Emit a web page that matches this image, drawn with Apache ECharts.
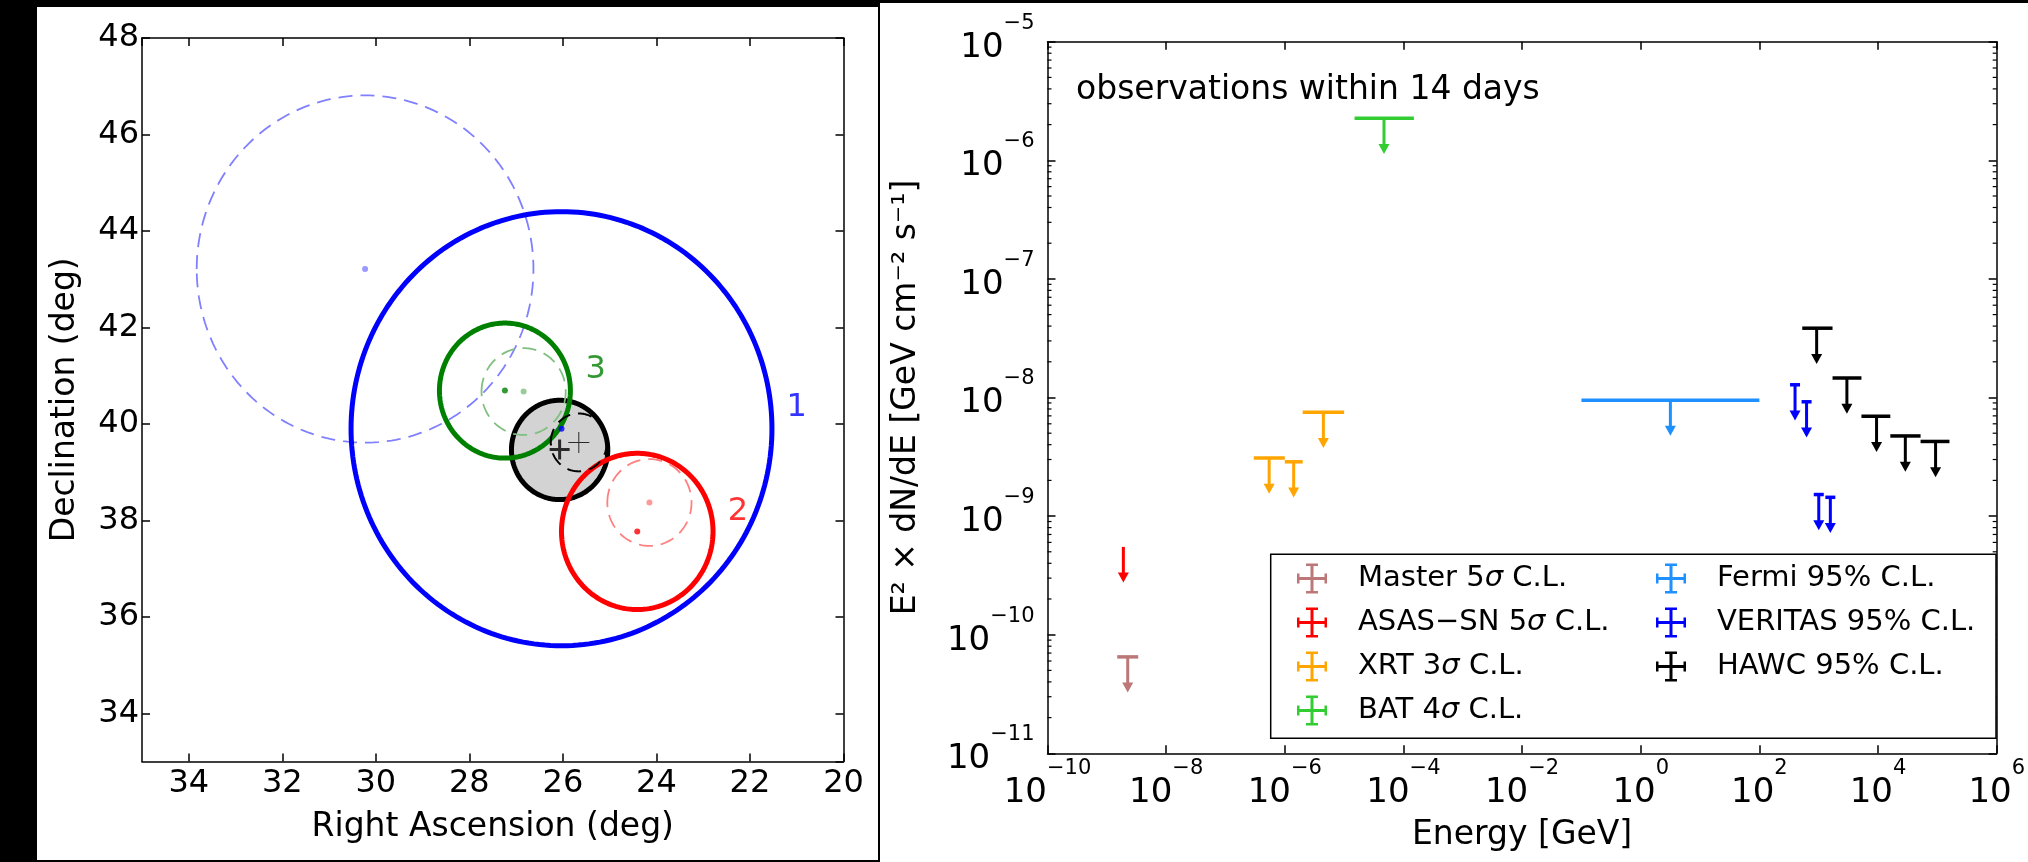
<!DOCTYPE html>
<html>
<head>
  <meta charset="utf-8">
  <title>Localisation and upper limits</title>
  <script src="https://cdn.jsdelivr.net/npm/echarts@6/dist/echarts.min.js"></script>
  <style>
    html, body { margin: 0; padding: 0; background: #000; }
    #main { width: 2028px; height: 862px; }
  </style>
</head>
<body>
  <div id="main"></div>
  <script>
  // ---- left panel: error circles (deg) ----
  var circleRa  = [30.23, 26.03, 26.07, 27.24, 26.84, 24.41, 24.15, 25.66];
  var circleDec = [43.21, 39.90, 39.46, 40.69, 40.67, 37.77, 38.37, 39.615];
  var circleRad = [3.60, 4.50, 1.03, 1.40, 0.90, 1.62, 0.90, 0.60];

  var dotRa  = [30.23, 26.03, 27.24, 26.84, 24.41, 24.15];
  var dotDec = [43.21, 39.90, 40.69, 40.67, 37.77, 38.37];

  var plusRa  = [26.07, 25.66];
  var plusDec = [39.47, 39.615];

  var labelText = ['1', '2', '3'];
  var labelRa   = [21.0, 22.26, 25.3];
  var labelDec  = [40.33, 38.18, 41.13];

  // ---- right panel: upper limits, energy [GeV], E^2 dN/dE ----
  var masterE = [2.25e-9];
  var masterF = [6.5e-11];
  var asasE = [1.9e-9];
  var asasF = [5.5e-10];
  var xrtE  = [5.45e-7, 1.41e-6, 4.47e-6];
  var xrtLo = [3.0e-7, 1.0e-6, 2.0e-6];
  var xrtHi = [1.0e-6, 2.0e-6, 1.0e-5];
  var xrtF  = [3.09e-9, 2.87e-9, 7.5e-9];
  var batE  = [4.7e-5];
  var batLo = [1.5e-5];
  var batHi = [1.5e-4];
  var batF  = [2.26e-6];
  var fermiE  = [3.16];
  var fermiLo = [0.1];
  var fermiHi = [100];
  var fermiF  = [9.5e-9];
  var veritasE = [399, 624, 1002, 1570];
  var veritasF = [1.28e-8, 9.2e-9, 1.52e-9, 1.44e-9];
  var hawcE  = [923, 2985, 9440, 28840, 93300];
  var hawcLo = [528, 1710, 5250, 16100, 52100];
  var hawcHi = [1710, 5250, 16100, 52100, 160000];
  var hawcF  = [3.84e-8, 1.46e-8, 6.95e-9, 4.74e-9, 4.26e-9];

  var FONT = 'DejaVu Sans';

  var circleStyle = [
    {color: '#8080ff', width: 1.8, dash: [14, 8]},
    {color: '#0000ff', width: 5},
    {color: '#000000', width: 5, fill: '#d3d3d3'},
    {color: '#008000', width: 5},
    {color: '#7fbf7f', width: 1.8, dash: [14, 8]},
    {color: '#ff0000', width: 5},
    {color: '#ff8080', width: 1.8, dash: [14, 8]},
    {color: '#000000', width: 2, dash: [14, 8]}
  ];
  var dotColor = ['#8080ff', '#0000ff', '#008000', '#7fbf7f', '#ff0000', '#ff8080'];
  var plusIcon = [
    'path://M0,8.5h20v3h-20z M8.5,0h3v20h-3z',
    'path://M0,10h21v1h-21z M10,0h1v21h-1z'
  ];
  var plusSize = [20, 21];
  var labelColor = ['#0000ff', '#ff0000', '#008000'];

  var crossIcon = 'path://M13.5,0h3v30h-3z M9,0h12v2.5h-12z M9,27.5h12v2.5h-12z M0,13.5h30v3h-30z M0,10h2.5v10h-2.5z M27.5,10h2.5v10h-2.5z';

  function axisBase(extra) {
    var a = {
      axisLine: {show: true, onZero: false, lineStyle: {color: '#000', width: 1.5}},
      axisTick: {show: true, inside: true, length: 8, lineStyle: {color: '#000', width: 1.5}},
      splitLine: {show: false},
      axisLabel: {show: false},
      nameTextStyle: {fontFamily: FONT, fontSize: 33, color: '#000', lineHeight: 36}
    };
    for (var k in extra) a[k] = extra[k];
    return a;
  }

  var plainLabel = {show: true, fontFamily: FONT, fontSize: 32, color: '#000', lineHeight: 36, margin: 4};

  // "10" fills a tall line; the exponent hugs the top of it
  var powRich = {
    b: {fontFamily: FONT, fontSize: 34, lineHeight: 70, color: '#000'},
    e: {fontFamily: FONT, fontSize: 21, lineHeight: 22, color: '#000', verticalAlign: 'top'}
  };
  function powLabel(p) {
    return '{b|10}{e|' + (p < 0 ? '\u2212' + (-p) : String(p)) + '}';
  }

  var TIP_FRAC = 0.5, ARROW_W = 11, ARROW_H = 10;
  function limitRender(capPx) {
    return function (params, api) {
      var y = api.value(1);
      var p = api.coord([api.value(0), y]);
      var tip = api.coord([api.value(0), y * TIP_FRAC]);
      var l = Math.min(api.coord([api.value(2), y])[0], p[0] - capPx);
      var r = Math.max(api.coord([api.value(3), y])[0], p[0] + capPx);
      var color = api.visual('color');
      var kids = [];
      if (r - l > 1) {
        kids.push({type: 'line', shape: {x1: l, y1: p[1], x2: r, y2: p[1]}, style: {stroke: color, lineWidth: 3.5}});
      }
      kids.push({type: 'line', shape: {x1: p[0], y1: p[1], x2: p[0], y2: tip[1] - ARROW_H + 1}, style: {stroke: color, lineWidth: 3}});
      kids.push({type: 'polygon', shape: {points: [[p[0] - ARROW_W / 2, tip[1] - ARROW_H], [p[0] + ARROW_W / 2, tip[1] - ARROW_H], [p[0], tip[1]]]}, style: {fill: color}});
      return {type: 'group', children: kids};
    };
  }

  function limitSeries(name, color, E, F, lo, hi, capPx) {
    var data = E.map(function (e, i) {
      return [Math.log10(e), F[i], Math.log10(lo ? lo[i] : e), Math.log10(hi ? hi[i] : e)];
    });
    return {
      type: 'custom', name: name, xAxisIndex: 2, yAxisIndex: 2,
      itemStyle: {color: color}, encode: {x: 0, y: 1},
      data: data, renderItem: limitRender(capPx), z: 3
    };
  }

  var minorTicks = [];
  for (var d = -11; d < -5; d++) {
    for (var m = 2; m <= 9; m++) minorTicks.push([-10, m * Math.pow(10, d)]);
  }

  var legendText = {
    fontFamily: FONT, fontSize: 29, color: '#000', lineHeight: 30, padding: [0, 0, 0, 26],
    rich: {s: {fontFamily: FONT, fontSize: 29, fontStyle: 'italic', color: '#000'}}
  };
  function legendFmt(name) { return name.replace('\u03c3', '{s|\u03c3}'); }

  var chart = echarts.init(document.getElementById('main'));
  chart.setOption({
    animation: false,
    backgroundColor: '#000',
    graphic: {elements: [
      {type: 'rect', z: -100, silent: true, shape: {x: 37, y: 7, width: 841, height: 853}, style: {fill: '#fff'}},
      {type: 'rect', z: -100, silent: true, shape: {x: 880, y: 3, width: 1148, height: 859}, style: {fill: '#fff'}},
      {type: 'rect', z: 3, silent: true, shape: {x: 1270.7, y: 554.3, width: 725.3, height: 184}, style: {fill: '#fff', stroke: '#000', lineWidth: 1.5}}
    ]},
    title: {
      text: 'observations within 14 days', left: 1076, top: 70, padding: 0,
      textStyle: {fontFamily: FONT, fontSize: 33, fontWeight: 'normal', color: '#000', lineHeight: 40}
    },
    legend: [
      {left: 1297, top: 563.5, orient: 'vertical', padding: 0, itemWidth: 30, itemHeight: 30, itemGap: 14,
       selectedMode: false, itemStyle: {borderWidth: 0}, textStyle: legendText, formatter: legendFmt,
       data: ['Master 5\u03c3 C.L.', 'ASAS\u2212SN 5\u03c3 C.L.', 'XRT 3\u03c3 C.L.', 'BAT 4\u03c3 C.L.'].map(function (n) { return {name: n, icon: crossIcon}; })},
      {left: 1656, top: 563.5, orient: 'vertical', padding: 0, itemWidth: 30, itemHeight: 30, itemGap: 14,
       selectedMode: false, itemStyle: {borderWidth: 0}, textStyle: legendText, formatter: legendFmt,
       data: ['Fermi 95% C.L.', 'VERITAS 95% C.L.', 'HAWC 95% C.L.'].map(function (n) { return {name: n, icon: crossIcon}; })}
    ],
    grid: [
      {left: 142, top: 38, width: 701.5, height: 723.5},
      {left: 1047.5, top: 41.7, width: 963.2, height: 711.6}
    ],
    xAxis: [
      axisBase({gridIndex: 0, type: 'value', min: 20, max: 35, interval: 2, inverse: true, position: 'bottom',
        axisLabel: Object.assign({}, plainLabel, {showMaxLabel: false}),
        name: 'Right Ascension (deg)', nameLocation: 'middle', nameGap: 48}),
      axisBase({gridIndex: 0, type: 'value', min: 20, max: 35, interval: 2, inverse: true, position: 'top'}),
      axisBase({gridIndex: 1, type: 'value', min: -10, max: 6, interval: 2, position: 'bottom',
        axisLabel: {show: true, margin: 5, formatter: function (v) { return powLabel(Math.round(v)); }, rich: powRich},
        name: 'Energy [GeV]', nameLocation: 'middle', nameGap: 64}),
      axisBase({gridIndex: 1, type: 'value', min: -10, max: 6, interval: 2, position: 'top'})
    ],
    yAxis: [
      axisBase({gridIndex: 0, type: 'value', min: 33, max: 48, splitNumber: 7, position: 'left',
        axisLabel: Object.assign({}, plainLabel, {showMinLabel: false, margin: 3}),
        name: 'Declination (deg)', nameLocation: 'middle', nameGap: 59}),
      axisBase({gridIndex: 0, type: 'value', min: 33, max: 48, splitNumber: 7, position: 'right'}),
      axisBase({gridIndex: 1, type: 'log', logBase: 10, min: 1e-11, max: 1e-5, position: 'left',
        axisLabel: {show: true, margin: 13, padding: [12, 0, 0, 0],
          formatter: function (v) { return powLabel(Math.round(Math.log10(v))); }, rich: powRich},
        name: 'E\u00b2 \u00d7 dN/dE [GeV cm\u207b\u00b2 s\u207b\u00b9]', nameLocation: 'middle', nameGap: 123}),
      axisBase({gridIndex: 1, type: 'log', logBase: 10, min: 1e-11, max: 1e-5, position: 'right'})
    ],
    series: [
      {
        type: 'custom', name: 'circles', xAxisIndex: 0, yAxisIndex: 0, encode: {x: 0, y: 1}, z: 2,
        data: circleRa.map(function (ra, i) { return [ra, circleDec[i], circleRad[i]]; }),
        renderItem: function (params, api) {
          var cx = api.value(0), cy = api.value(1), r = api.value(2);
          var st = circleStyle[params.dataIndex];
          var pts = [];
          for (var k = 0; k < 240; k++) {
            var t = 2 * Math.PI * k / 240;
            pts.push(api.coord([cx + r * Math.cos(t), cy + r * Math.sin(t)]));
          }
          return {type: 'polygon', shape: {points: pts},
            style: {fill: st.fill || 'none', stroke: st.color, lineWidth: st.width, lineDash: st.dash || null}};
        }
      },
      {
        type: 'scatter', name: 'centres', xAxisIndex: 0, yAxisIndex: 0, symbolSize: 6, z: 3,
        data: dotRa.map(function (ra, i) { return {value: [ra, dotDec[i]], itemStyle: {color: dotColor[i]}}; })
      },
      {
        type: 'scatter', name: 'markers', xAxisIndex: 0, yAxisIndex: 0, z: 4,
        data: plusRa.map(function (ra, i) {
          return {value: [ra, plusDec[i]], symbol: plusIcon[i], symbolSize: plusSize[i], itemStyle: {color: '#000'}};
        })
      },
      {
        type: 'scatter', name: 'labels', xAxisIndex: 0, yAxisIndex: 0, symbolSize: 1, z: 4,
        itemStyle: {color: 'rgba(0,0,0,0)'},
        label: {show: true, position: 'inside', formatter: '{b}', fontFamily: FONT, fontSize: 32},
        data: labelText.map(function (t, i) {
          return {name: t, value: [labelRa[i], labelDec[i]], label: {color: labelColor[i]}};
        })
      },
      {
        type: 'custom', name: 'minor', xAxisIndex: 2, yAxisIndex: 2, encode: {x: 0, y: 1}, silent: true,
        data: minorTicks,
        renderItem: function (params, api) {
          var a = api.coord([-10, api.value(1)]);
          var b = api.coord([6, api.value(1)]);
          var s = {stroke: '#000', lineWidth: 1.2};
          return {type: 'group', children: [
            {type: 'line', shape: {x1: a[0], y1: a[1], x2: a[0] + 4, y2: a[1]}, style: s},
            {type: 'line', shape: {x1: b[0] - 4, y1: b[1], x2: b[0], y2: b[1]}, style: s}
          ]};
        }
      },
      limitSeries('Master 5\u03c3 C.L.', '#bc7878', masterE, masterF, null, null, 10.5),
      limitSeries('ASAS\u2212SN 5\u03c3 C.L.', '#ff0000', asasE, asasF, null, null, 0),
      limitSeries('XRT 3\u03c3 C.L.', '#ffa500', xrtE, xrtF, xrtLo, xrtHi, 0),
      limitSeries('BAT 4\u03c3 C.L.', '#32cd32', batE, batF, batLo, batHi, 0),
      limitSeries('Fermi 95% C.L.', '#1e90ff', fermiE, fermiF, fermiLo, fermiHi, 0),
      limitSeries('VERITAS 95% C.L.', '#0000ff', veritasE, veritasF, null, null, 5),
      limitSeries('HAWC 95% C.L.', '#000000', hawcE, hawcF, hawcLo, hawcHi, 0)
    ]
  });
  </script>
</body>
</html>
